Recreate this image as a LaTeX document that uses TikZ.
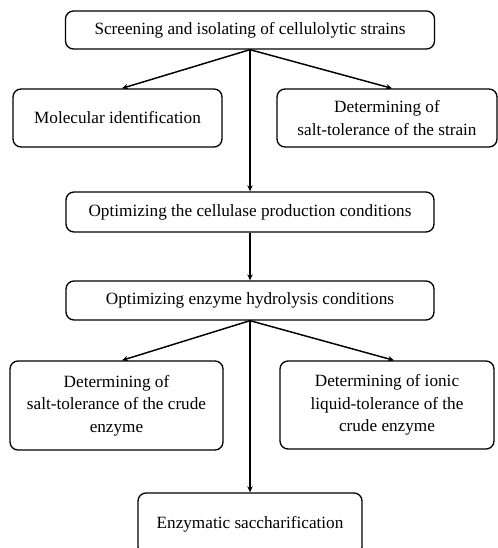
\documentclass[tikz,border=0pt]{standalone}
\usepackage{fontspec}
\setmainfont{Liberation Serif}
\usetikzlibrary{arrows.meta,calc}
\begin{document}
\begin{tikzpicture}[x=0.75pt,y=-0.75pt,
  box/.style={draw, line width=1pt, rounded corners=6pt, align=center, inner sep=0pt,
    font=\fontsize{12.9}{16.8}\selectfont},
  conn/.style={line width=1.1pt, -{Stealth[length=4.5pt,width=4pt]}}]
\useasboundingbox (0,0) rectangle (498,548);
\clip (0,0) rectangle (498,548);
\fill[white] (0,0) rectangle (498,548);
\node[box, minimum width=276.75pt, minimum height=28.5pt] (b1) at (250,30) {Screening and isolating of cellulolytic strains};
\node[box, minimum width=156.75pt, minimum height=43.5pt] (b2) at (117.5,118) {Molecular identification};
\node[box, minimum width=165pt, minimum height=43.5pt] (b3) at (387,118) {Determining of\\salt-tolerance of the strain};
\node[box, minimum width=276pt, minimum height=30pt] (b4) at (250,212) {Optimizing the cellulase production conditions};
\node[box, minimum width=276pt, minimum height=29.25pt] (b5) at (250,300.5) {Optimizing enzyme hydrolysis conditions};
\node[box, minimum width=159.75pt, minimum height=66.75pt] (b6) at (116.5,405.5) {Determining of\\salt-tolerance of the crude\\enzyme};
\node[box, minimum width=160.5pt, minimum height=66pt] (b7) at (387,405) {Determining of ionic\\liquid-tolerance of the\\crude enzyme};
\node[box, minimum width=168pt, minimum height=46.5pt] (b8) at (250,524) {Enzymatic saccharification};
\coordinate (t2) at ($(b2.north)+(4.5,0)$);
\coordinate (t3) at ($(b3.north)+(5,0)$);
\coordinate (t6) at ($(b6.north)+(5.5,0)$);
\coordinate (t7) at ($(b7.north)+(7,0)$);
\draw[conn] (b1.south) -- (t2);
\draw[conn] (b1.south) -- (t3);
\draw[conn] (b1.south) -- (b4.north);
\draw[conn] (b4.south) -- (b5.north);
\draw[conn] (b5.south) -- (t6);
\draw[conn] (b5.south) -- (t7);
\draw[conn] (b5.south) -- (b8.north);
\end{tikzpicture}
\end{document}
